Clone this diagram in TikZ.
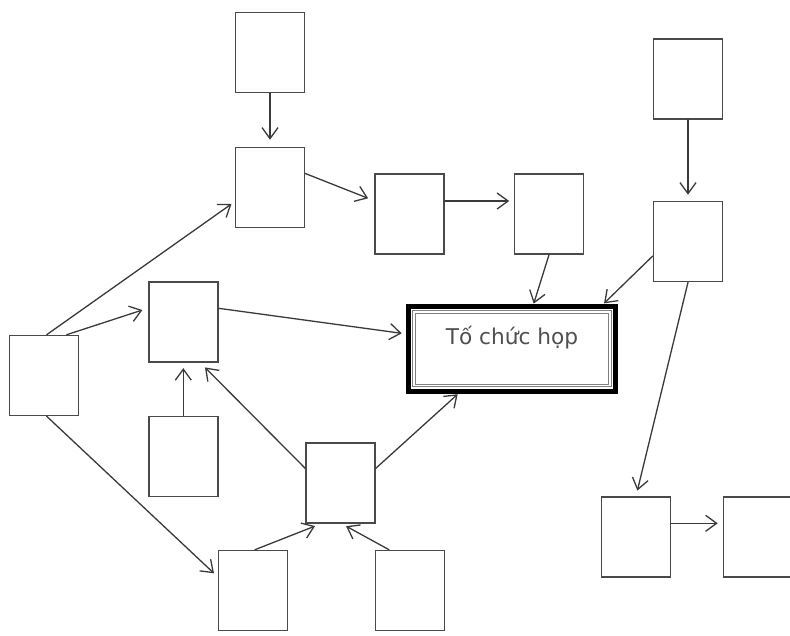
\documentclass[tikz,border=0pt]{standalone}
\usepackage{fontspec}
\setmainfont{DejaVu Sans}
\usetikzlibrary{arrows.meta}
\definecolor{boxline}{HTML}{4A4A4A}
\definecolor{arrline}{HTML}{3A3A3A}
\definecolor{labeltext}{HTML}{505050}
\begin{document}
\begin{tikzpicture}[x=1pt,y=-1pt,
  box/.style={draw=boxline,line width=1.6pt,fill=white,minimum width=69pt,minimum height=80pt,inner sep=0pt},
  arr/.style={draw=arrline,line width=1.3pt,line cap=round,
    -{Straight Barb[length=11pt,width=16pt,line width=1.3pt]}},
  hub/.style={draw=black,line width=5pt,fill=white,minimum width=207pt,minimum height=84.5pt,
    inner sep=0pt,font=\fontsize{21.7}{24}\selectfont,text=labeltext,text height=16pt,text depth=24.6pt},
  inner frame/.style={draw=gray,double=white,double distance=1.5pt,line width=1pt}]
  % canvas
  \fill[white] (0,0) rectangle (790,635);
  \useasboundingbox (0,0) rectangle (790,635);

  % boxes
  \node[box] (A) at (270,52.5) {};
  \node[box] (B) at (270,187.5) {};
  \node[box] (C) at (409.5,214) {};
  \node[box] (D) at (549,214) {};
  \node[box] (E) at (688,79) {};
  \node[box] (F) at (688,241.5) {};
  \node[box] (G) at (44,375.5) {};
  \node[box] (H) at (183.3,322) {};
  \node[box] (I) at (183.3,456.3) {};
  \node[box] (J) at (340.5,483) {};
  \node[box] (K) at (253,590.5) {};
  \node[box] (L) at (410,590.5) {};
  \node[box] (M) at (636,537) {};
  \node[box] (N) at (758,537) {};

  % central meeting box with double inner frame
  \node[hub] (Z) at (512,348.8) {Tố chức họp};
  \draw[inner frame] ([shift={(8pt,-8pt)}]Z.north west) rectangle ([shift={(-8pt,8pt)}]Z.south east);

  % connectors
  \draw[arr,shorten >=7pt] (A.south) -- (B.north);
  \draw[arr,shorten >=6.5pt] ([yshift=14pt]B.east) -- ([yshift=13.3pt]C.west);
  \draw[arr,shorten >=4.5pt] ([yshift=13pt]C.east) -- ([yshift=13pt]D.west);
  \draw[arr,shorten >=0.5pt] (D.south) -- ([xshift=21.6pt]Z.north);
  \draw[arr,shorten >=6pt] (E.south) -- (F.north);
  \draw[arr,shorten >=1pt] ([yshift=-14.5pt]F.west) -- ([xshift=91.3pt]Z.north);
  \draw[arr,shorten >=5.8pt] (F.south) -- (M.north);
  \draw[arr,shorten >=5pt] ([yshift=13.7pt]M.east) -- ([yshift=13.7pt]N.west);
  \draw[arr,shorten >=4pt] ([xshift=2.7pt]G.north) -- ([yshift=-14.2pt]B.west);
  \draw[arr,shorten >=5.9pt] ([xshift=22.7pt]G.north) -- ([yshift=13.8pt]H.west);
  \draw[arr,shorten >=5.1pt] ([xshift=2.7pt]G.south) -- ([yshift=13.7pt]K.west);
  \draw[arr,shorten >=4.3pt] ([yshift=13.7pt]H.east) -- ([yshift=14.9pt]Z.west);
  \draw[arr,shorten >=5.3pt] (I.north) -- (H.south);
  \draw[arr,shorten >=6.5pt] ([yshift=14.7pt]J.west) -- ([xshift=17.1pt]H.south);
  \draw[arr,shorten >=1pt] ([yshift=14.7pt]J.east) -- ([xshift=-53.6pt]Z.south);
  \draw[arr,shorten >=6.2pt] ([xshift=2pt]K.north) -- ([xshift=-19.7pt]J.south);
  \draw[arr,shorten >=4.9pt] ([xshift=-21pt]L.north) -- ([xshift=1.3pt]J.south);
\end{tikzpicture}
\end{document}
